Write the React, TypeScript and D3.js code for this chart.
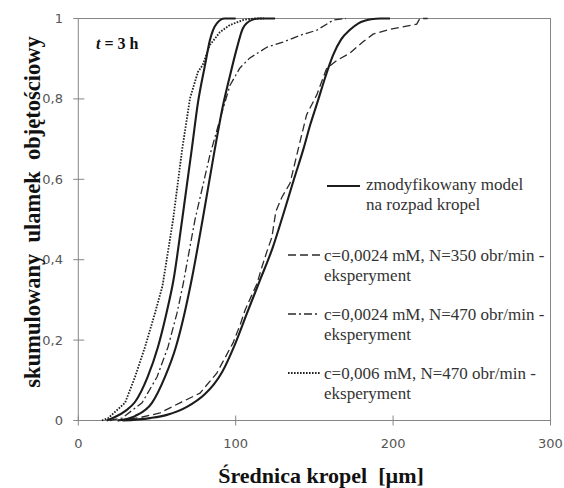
import React from "react";
import * as d3 from "d3";

const W = 564;
const H = 488;

const xTicks = [0, 100, 200, 300];
const yTicks = [0, 0.2, 0.4, 0.6, 0.8, 1];
const yTickLabels = ["0", "0,2", "0,4", "0,6", "0,8", "1"];

// model curves (solid)
const modelA: [number, number][] = [
  [18, 0], [23, 0.008], [30, 0.024], [36, 0.046], [44, 0.108], [50.6, 0.183], [56, 0.267],
  [60.5, 0.35], [66, 0.5], [72.2, 0.678], [76, 0.79], [80.5, 0.884], [83.6, 0.946],
  [88, 0.988], [93, 1], [100, 1],
];
const modelB: [number, number][] = [
  [25, 0], [36, 0.011], [46.8, 0.044], [55, 0.108], [62, 0.183], [67.5, 0.267],
  [72, 0.35], [79, 0.5], [86.5, 0.67], [92, 0.785], [96, 0.852], [100.8, 0.927],
  [104.6, 0.976], [110, 0.996], [115, 1], [125, 1],
];
const modelC: [number, number][] = [
  [28, 0], [45.5, 0.006], [56.3, 0.014], [69, 0.034], [80.5, 0.066], [86, 0.089],
  [91.3, 0.12], [99.6, 0.19], [107, 0.265], [115, 0.345], [123.5, 0.43], [130, 0.51],
  [137, 0.6], [143, 0.675], [147.3, 0.735], [151.8, 0.79], [158, 0.867], [162, 0.91],
  [167, 0.948], [172.6, 0.972], [178, 0.988], [186, 0.998], [192, 1], [198, 1],
];
// experiment: c=0,0024 mM, N=350
const exp350: [number, number][] = [
  [25, 0], [40, 0.008], [52, 0.019], [64.6, 0.044], [77.3, 0.068], [88, 0.118],
  [98.3, 0.193], [103, 0.24], [106, 0.275], [110, 0.31], [113.5, 0.34], [116.5, 0.38],
  [119.8, 0.42], [123, 0.456], [125.5, 0.52], [129.4, 0.556], [134.5, 0.59],
  [139.6, 0.673], [145, 0.76], [151.5, 0.81], [157.8, 0.876], [164.4, 0.896],
  [172.6, 0.914], [180.9, 0.942], [187.3, 0.961], [198, 0.973], [215, 0.986], [217, 1],
  [222, 1],
];
// experiment: c=0,0024 mM, N=470
const exp470: [number, number][] = [
  [20, 0], [27.8, 0.006], [40.5, 0.044], [50, 0.108], [57, 0.183], [62.7, 0.267],
  [66.5, 0.337], [74.1, 0.499], [83.6, 0.66], [91.3, 0.767], [96.4, 0.834], [102.7, 0.877],
  [109, 0.902], [120, 0.929], [130, 0.941], [140.8, 0.958], [151.6, 0.971], [162, 0.996],
  [170, 1],
];
// experiment: c=0,006 mM, N=470
const exp006: [number, number][] = [
  [15, 0], [19, 0.006], [29.7, 0.044], [36, 0.108], [42.4, 0.183], [48.7, 0.267],
  [53.5, 0.335], [60.2, 0.499], [66, 0.675], [71, 0.802], [76, 0.867], [79, 0.884],
  [83.6, 0.934], [90, 0.966], [96.4, 0.984], [104.6, 0.996], [111, 1], [118, 1],
];

const legendLabels = [
  ["zmodyfikowany model", "na rozpad kropel"],
  ["c=0,0024 mM, N=350 obr/min -", "eksperyment"],
  ["c=0,0024 mM, N=470 obr/min -", "eksperyment"],
  ["c=0,006 mM, N=470 obr/min -", "eksperyment"],
];

const x = d3.scaleLinear().domain([0, 300]).range([78.3, 550.5]);
const y = d3.scaleLinear().domain([0, 1]).range([420.5, 18.5]);

const lineSmooth = d3
  .line<[number, number]>()
  .x((d) => x(d[0]))
  .y((d) => y(d[1]))
  .curve(d3.curveMonotoneX);
const lineLin = d3
  .line<[number, number]>()
  .x((d) => x(d[0]))
  .y((d) => y(d[1]));

const AX = "#868686";
const INK = "#1c1c1c";
const serif = "'Liberation Serif', 'Times New Roman', serif";

const styles = {
  model: { stroke: INK, strokeWidth: 2.1, dash: undefined as string | undefined },
  s350: { stroke: "#2a2a2a", strokeWidth: 1.3, dash: "8 4" },
  s470: { stroke: "#2a2a2a", strokeWidth: 1.3, dash: "8 3 2 3" },
  s006: { stroke: "#222", strokeWidth: 1.8, dash: "1.6 1.4" },
};

export default function App() {
  const [x0, x1] = x.range();
  const [y0, y1] = y.range();
  const legendRows = [
    { st: styles.model, sx: 327, ex: 360, ty: 184, sy: 186, tx: 366 },
    { st: styles.s350, sx: 288, ex: 320, ty: 255, sy: 255, tx: 324 },
    { st: styles.s470, sx: 288, ex: 320, ty: 314, sy: 314, tx: 324 },
    { st: styles.s006, sx: 288, ex: 320, ty: 373, sy: 373, tx: 324 },
  ];
  return (
    <svg
      width={W}
      height={H}
      style={{ position: "absolute", left: 0, top: 0, background: "#fff" }}
    >
      <rect x={0} y={0} width={W} height={H} fill="#fff" />
      {/* frame */}
      <rect x={x0} y={y1} width={x1 - x0} height={y0 - y1} fill="none" stroke={AX} strokeWidth={1} />
      {/* y ticks */}
      {yTicks.map((t, i) => (
        <g key={"y" + i}>
          <line x1={x0 - 5} x2={x0 + 6} y1={y(t)} y2={y(t)} stroke={AX} />
          <text
            x={63}
            y={y(t)}
            dy="0.35em"
            textAnchor="end"
            fontFamily="'DejaVu Sans', Verdana, sans-serif"
            fontSize={13}
            fill="#555"
          >
            {yTickLabels[i]}
          </text>
        </g>
      ))}
      {/* x ticks */}
      {xTicks.map((t, i) => (
        <g key={"x" + i}>
          <line x1={x(t)} x2={x(t)} y1={y0 - 5} y2={y0 + 5} stroke={AX} />
          <text
            x={x(t)}
            y={448}
            textAnchor="middle"
            fontFamily="'DejaVu Sans', Verdana, sans-serif"
            fontSize={13}
            fill="#555"
          >
            {String(t)}
          </text>
        </g>
      ))}
      {/* curves */}
      <path d={lineLin(exp006) || ""} fill="none" stroke={styles.s006.stroke} strokeWidth={styles.s006.strokeWidth} strokeDasharray={styles.s006.dash} />
      <path d={lineLin(exp470) || ""} fill="none" stroke={styles.s470.stroke} strokeWidth={styles.s470.strokeWidth} strokeDasharray={styles.s470.dash} />
      <path d={lineLin(exp350) || ""} fill="none" stroke={styles.s350.stroke} strokeWidth={styles.s350.strokeWidth} strokeDasharray={styles.s350.dash} />
      {[modelA, modelB, modelC].map((m, i) => (
        <path key={"m" + i} d={lineSmooth(m) || ""} fill="none" stroke={INK} strokeWidth={2.1} strokeLinejoin="round" />
      ))}
      {/* t = 3 h */}
      <text x={96} y={49} fontFamily={serif} fontWeight="bold" fontSize={16} fill="#111">
        <tspan fontStyle="italic">t</tspan> = 3 h
      </text>
      {/* legend */}
      {legendRows.map((r, i) => (
        <g key={"l" + i}>
          <line x1={r.sx} x2={r.ex} y1={r.sy} y2={r.sy} stroke={r.st.stroke} strokeWidth={r.st.strokeWidth} strokeDasharray={r.st.dash} />
          <text x={r.tx} y={r.ty} dy="0.35em" fontFamily={serif} fontSize={17} fill="#333">
            {legendLabels[i][0]}
          </text>
          <text x={r.tx} y={r.ty + 20} dy="0.35em" fontFamily={serif} fontSize={17} fill="#333">
            {legendLabels[i][1]}
          </text>
        </g>
      ))}
      {/* axis titles */}
      <text
        transform={`translate(40, 212) rotate(-90)`}
        textAnchor="middle"
        fontFamily={serif}
        fontWeight="bold"
        fontSize={22.5}
        fill="#111"
        style={{ whiteSpace: "pre" }}
      >
        {"skumulowany  ulamek  objętościowy"}
      </text>
      <text
        x={321}
        y={483}
        textAnchor="middle"
        fontFamily={serif}
        fontWeight="bold"
        fontSize={22}
        fill="#111"
        style={{ whiteSpace: "pre" }}
      >
        {"Średnica kropel  [µm]"}
      </text>
    </svg>
  );
}
